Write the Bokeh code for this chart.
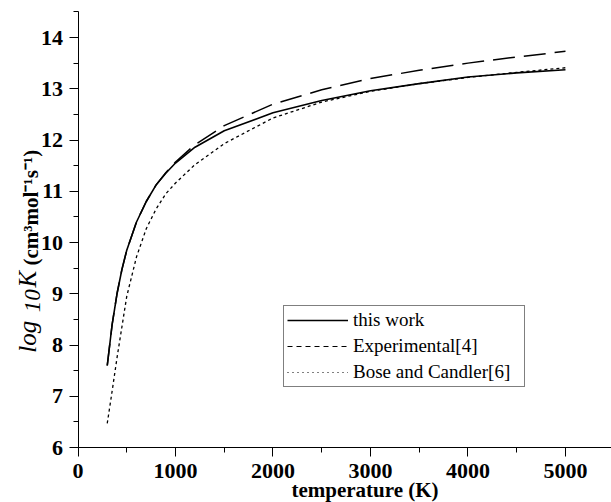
import math
from bokeh.plotting import figure
from bokeh.models import Label, Legend, LegendItem, Range1d, FixedTicker
from bokeh.embed import file_html
from bokeh.resources import INLINE

temperature = [300, 350, 400, 450, 500, 600, 700, 800, 900, 1000, 1200, 1500, 2000, 2500, 3000, 3500, 4000, 4500, 5000]
this_work = [7.6, 8.4, 9.0, 9.47, 9.85, 10.4, 10.8, 11.12, 11.35, 11.55, 11.86, 12.18, 12.53, 12.77, 12.96, 13.1, 13.23, 13.31, 13.37]
experimental = [7.6, 8.4, 9.0, 9.47, 9.85, 10.4, 10.8, 11.12, 11.36, 11.57, 11.91, 12.28, 12.7, 12.98, 13.2, 13.36, 13.5, 13.62, 13.73]
bose_candler = [6.47, 7.1, 7.75, 8.35, 8.95, 9.72, 10.27, 10.65, 10.95, 11.16, 11.52, 11.93, 12.43, 12.74, 12.95, 13.1, 13.22, 13.32, 13.41]

x_ticks = [0, 1000, 2000, 3000, 4000, 5000]
x_minor = [500, 1500, 2500, 3500, 4500]
y_ticks = [6, 7, 8, 9, 10, 11, 12, 13, 14]
y_minor = [6.5, 7.5, 8.5, 9.5, 10.5, 11.5, 12.5, 13.5, 14.5]

SERIF = "Liberation Serif"

# the frame covers the whole canvas; axes sit at fixed data locations
p = figure(width=611, height=502, output_backend="svg", toolbar_location=None,
           x_range=Range1d(-795, 5472), y_range=Range1d(4.927, 14.722),
           min_border=0)
p.outline_line_color = None
p.grid.visible = False
p.background_fill_color = "white"
p.border_fill_color = "white"

for ax in (p.xaxis[0], p.yaxis[0]):
    ax.axis_line_color = "black"
    ax.axis_line_width = 1
    ax.major_tick_line_color = "black"
    ax.minor_tick_line_color = "black"
    ax.major_tick_in = 0
    ax.major_tick_out = 9
    ax.minor_tick_in = 0
    ax.minor_tick_out = 5
    ax.major_label_text_font = SERIF
    ax.major_label_text_font_style = "bold"
    ax.major_label_text_font_size = "22px"
    ax.major_label_text_color = "black"

p.xaxis.ticker = FixedTicker(ticks=x_ticks, minor_ticks=x_minor)
p.yaxis.ticker = FixedTicker(ticks=y_ticks, minor_ticks=y_minor)
p.xaxis.fixed_location = 6
p.yaxis.fixed_location = 0
p.xaxis.bounds = (0, 5472)
p.yaxis.bounds = (6, 14.5)
p.xaxis.major_label_standoff = 7
p.yaxis.major_label_standoff = 6

r1 = p.line(temperature, this_work, line_color="black", line_width=1.6)
r2 = p.line(temperature, experimental, line_color="black", line_width=1.5, line_dash="22 9")
r3 = p.line(temperature, bose_candler, line_color="black", line_width=1.3, line_dash="3 3")

# legend proxies (single point -> draws nothing in the plot) with the legend's short dash patterns
l1 = p.line(temperature[:1], this_work[:1], line_color="black", line_width=1.3)
l2 = p.line(temperature[:1], experimental[:1], line_color="black", line_width=1.2, line_dash="5 4")
l3 = p.line(temperature[:1], bose_candler[:1], line_color="black", line_width=1.0, line_dash="1 4")

legend = Legend(items=[LegendItem(label="this work", renderers=[l1]),
                       LegendItem(label="Experimental[4]", renderers=[l2]),
                       LegendItem(label="Bose and Candler[6]", renderers=[l3])],
                location=(283, 115), orientation="vertical")
legend.label_text_font = SERIF
legend.label_text_font_size = "19px"
legend.label_text_color = "black"
legend.padding = 3
legend.spacing = 4
legend.glyph_width = 61
legend.glyph_height = 22
legend.label_height = 22
legend.label_width = 168
legend.label_standoff = 5
legend.border_line_color = "black"
legend.border_line_width = 1
legend.background_fill_alpha = 1
legend.margin = 0
p.add_layout(legend, "center")

# x-axis label
p.add_layout(Label(x=2944, y=6, y_offset=-42, text="temperature (K)", text_align="center",
                   text_baseline="alphabetic", text_font=SERIF, text_font_style="bold",
                   text_font_size="21px", text_color="black"))

# y-axis label pieces (rotated)
ang = math.pi / 2
p.add_layout(Label(x=0, y=7.85, x_offset=-51, text="log", angle=ang, text_align="left",
                   text_baseline="alphabetic", text_font=SERIF, text_font_style="italic",
                   text_font_size="25px", text_color="black"))
p.add_layout(Label(x=0, y=8.64, x_offset=-46, text="10", angle=ang, text_align="left",
                   text_baseline="alphabetic", text_font=SERIF, text_font_style="italic",
                   text_font_size="23px", text_color="black"))
p.add_layout(Label(x=0, y=9.12, x_offset=-51, text="K", angle=ang, text_align="left",
                   text_baseline="alphabetic", text_font=SERIF, text_font_style="italic",
                   text_font_size="25px", text_color="black"))
p.add_layout(Label(x=0, y=9.55, x_offset=-47, text="(cm³mol⁻¹s⁻¹)", angle=ang, text_align="left",
                   text_baseline="alphabetic", text_font=SERIF, text_font_style="bold",
                   text_font_size="21px", text_color="black"))

open("out.html", "w").write(file_html(p, INLINE))
